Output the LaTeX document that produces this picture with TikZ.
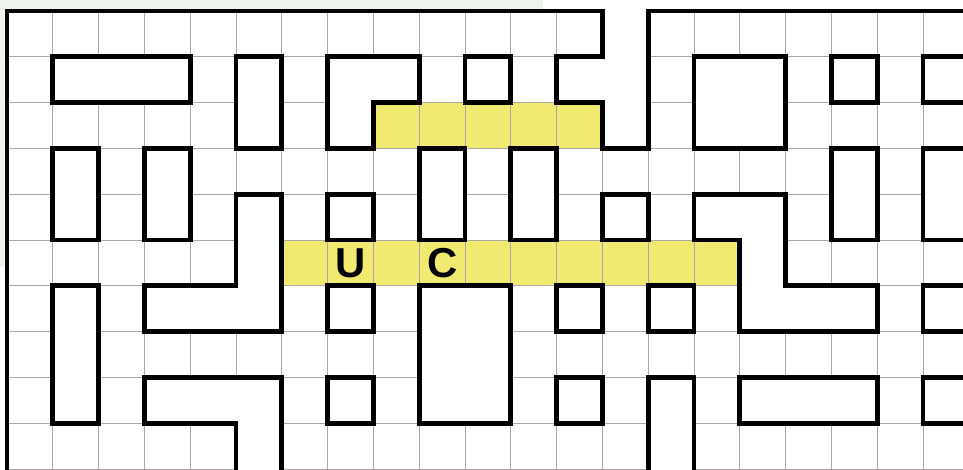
\documentclass[tikz,border=0pt]{standalone}
\usepackage{fontspec}
\newfontfamily\mazefont{Liberation Sans}
\usepackage{tikz}
\definecolor{pathyellow}{RGB}{240,234,112}
\definecolor{cellgray}{RGB}{172,166,166}
\definecolor{paletint}{RGB}{238,244,236}

\begin{document}
\begin{tikzpicture}[
  x=1cm, y=-1cm,
  wall/.style={draw=black, fill=white, line width=3pt, line join=miter},
  cellline/.style={draw=cellgray, line width=0.6pt},
  route/.style={fill=pathyellow},
  tag/.style={font=\mazefont\bfseries\fontsize{26}{26}\selectfont, inner sep=0pt}]
\useasboundingbox (-0.153,-0.24) rectangle (20.873,10.0);
\fill[paletint] (-0.153,-0.24) rectangle (11.7,0) (-0.153,0) rectangle (0,5.6);
\clip (-0.153,-0.24) rectangle (20.873,10.0);
% highlighted corridors
\fill[route] (8,2) rectangle (13,3);
\fill[route] (6,5) rectangle (16,6);
\draw[cellline] (0,0) grid (21,10);
% entrance notch
\fill[white] (13,-0.3) -- (14,-0.3) -- (14,3) -- (13,3) -- (13,2) -- (12,2) -- (12,1) -- (13,1) -- cycle;
\draw[wall, fill=none] (21,0) -- (14,0) -- (14,3) -- (13,3) -- (13,2) -- (12,2) -- (12,1) -- (13,1) -- (13,0) -- (0,0) -- (0,10.5);
% blocks
\foreach \xa/\ya/\xb/\yb in {1/1/4/2, 5/1/6/3, 10/1/11/2, 15/1/17/3, 18/1/19/2, 20/1/21.5/2,
    1/3/2/5, 3/3/4/5, 9/3/10/5, 11/3/12/5, 18/3/19/5, 20/3/21.5/5,
    7/4/8/5, 13/4/14/5, 1/6/2/9, 7/6/8/7, 9/6/11/9, 12/6/13/7, 14/6/15/7, 20/6/21.5/7,
    7/8/8/9, 12/8/13/9, 16/8/19/9, 20/8/21.5/9}
  \draw[wall] (\xa,\ya) rectangle (\xb,\yb);
\draw[wall] (7,1) -- (9,1) -- (9,2) -- (8,2) -- (8,3) -- (7,3) -- cycle;
\draw[wall] (5,4) -- (6,4) -- (6,7) -- (3,7) -- (3,6) -- (5,6) -- cycle;
\draw[wall] (15,4) -- (17,4) -- (17,6) -- (19,6) -- (19,7) -- (16,7) -- (16,5) -- (15,5) -- cycle;
% blocks running off the bottom edge
\fill[white] (5,10.5) -- (5,9) -- (3,9) -- (3,8) -- (6,8) -- (6,10.5) -- cycle;
\draw[wall, fill=none] (5,10.5) -- (5,9) -- (3,9) -- (3,8) -- (6,8) -- (6,10.5);
\fill[white] (14,10.5) rectangle (15,8);
\draw[wall, fill=none] (14,10.5) -- (14,8) -- (15,8) -- (15,10.5);
\node[tag] (u) at (7.5,5.5) {U};
\node[tag] (c) at (9.5,5.5) {C};
\end{tikzpicture}
\end{document}
